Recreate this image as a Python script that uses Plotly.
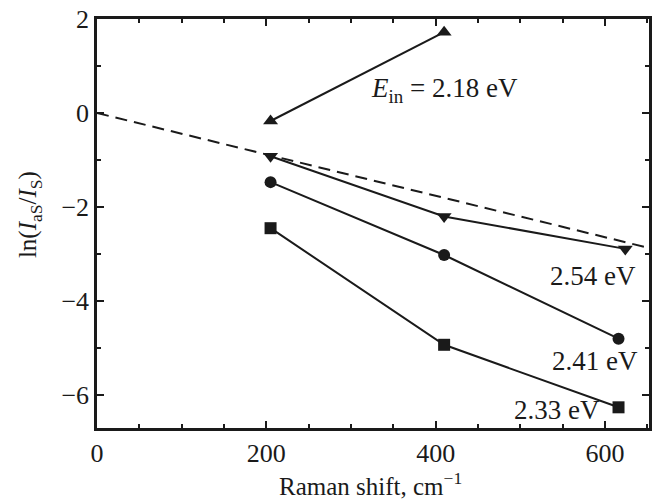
import plotly.graph_objects as go

# Data
x_218 = [205, 410]
y_218 = [-0.17, 1.72]
x_254 = [205, 410, 624]
y_254 = [-0.92, -2.20, -2.89]
x_241 = [205, 410, 616]
y_241 = [-1.47, -3.02, -4.80]
x_233 = [205, 410, 616]
y_233 = [-2.45, -4.93, -6.26]
fit_x = [0, 652]
fit_y = [0.0, -2.87]

label_text = ["<i>E</i><sub>in</sub> = 2.18 eV", "2.54 eV", "2.41 eV", "2.33 eV"]
label_x = [410, 586, 588, 543]
label_y = [0.49, -3.47, -5.28, -6.31]

FONT = "Liberation Serif"
BLACK = "#1a1a1a"

fig = go.Figure()
fig.add_trace(go.Scatter(x=fit_x, y=fit_y, mode="lines",
                         line=dict(color=BLACK, width=2, dash="12px,7px"),
                         showlegend=False))
series = [
    (x_218, y_218, "triangle-up"),
    (x_254, y_254, "triangle-down"),
    (x_241, y_241, "circle"),
    (x_233, y_233, "square"),
]
for xs, ys, sym in series:
    fig.add_trace(go.Scatter(x=xs, y=ys, mode="lines+markers",
                             line=dict(color=BLACK, width=2),
                             marker=dict(symbol=sym, size=13 if "triangle" in sym else 12,
                                         color=BLACK),
                             showlegend=False))

for t, x, y in zip(label_text, label_x, label_y):
    fig.add_annotation(x=x, y=y, text=t, showarrow=False,
                       font=dict(family=FONT, size=27, color=BLACK))

# axis titles
fig.add_annotation(xref="paper", yref="paper", x=0.4946, y=-0.137,
                   xanchor="center", yanchor="middle", showarrow=False,
                   text="Raman shift, cm<sup>−1</sup>",
                   font=dict(family=FONT, size=25, color=BLACK))
fig.add_annotation(xref="paper", yref="paper", x=-0.121, y=0.521,
                   xanchor="center", yanchor="middle", showarrow=False, textangle=-90,
                   text="ln(<i>I</i><sub>aS</sub>/<i>I</i><sub>S</sub>)",
                   font=dict(family=FONT, size=25, color=BLACK))

axis_common = dict(showline=True, linecolor=BLACK, linewidth=2.5, mirror="allticks",
                   ticks="inside", ticklen=7, tickwidth=1.5, tickcolor=BLACK,
                   showgrid=False, zeroline=False, automargin=False,
                   tickfont=dict(family=FONT, size=26, color=BLACK))

fig.update_xaxes(range=[0, 652], tickvals=[0, 200, 400, 600],
                 minor=dict(dtick=50, tick0=0, ticks="inside", ticklen=4,
                            tickwidth=1.5, tickcolor=BLACK),
                 **axis_common)
fig.update_yaxes(range=[-6.7, 2], tickvals=[-6, -4, -2, 0, 2],
                 minor=dict(dtick=1, tick0=0, ticks="inside", ticklen=4,
                            tickwidth=1.5, tickcolor=BLACK),
                 **axis_common)

fig.update_layout(width=653, height=499,
                  margin=dict(l=97, r=4, t=19, b=71),
                  paper_bgcolor="white", plot_bgcolor="white",
                  font=dict(family=FONT, color=BLACK))

fig.write_html("out.html", config={"displayModeBar": False},
               post_script="document.body.style.margin='0';")
